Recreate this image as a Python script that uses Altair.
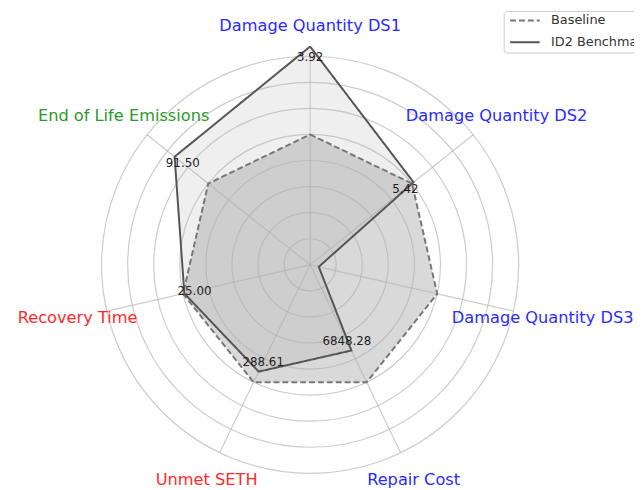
import math
import altair as alt
import pandas as pd

categories = ["Damage Quantity DS1", "Damage Quantity DS2", "Damage Quantity DS3",
              "Repair Cost", "Unmet SETH", "Recovery Time", "End of Life Emissions"]
label_colors = ["#2a2aff", "#2a2aff", "#2a2aff", "#2a2aff", "#ff2a2a", "#ff2a2a", "#2a9a2a"]
baseline = [1.0, 1.0, 1.0, 1.0, 1.0, 1.0, 1.0]
id2 = [1.675, 1.015, 0.068, 0.73, 0.91, 0.99, 1.33]
value_labels = ["3.92", "5.42", "", "6848.28", "288.61", "25.00", "91.50"]
ring_levels = [0.2, 0.4, 0.6, 0.8, 1.0, 1.2, 1.4, 1.6]
series_names = ["Baseline", "ID2 Benchmark"]

W, H = 634, 482
CX, CY, UNIT = 306, 257, 132.0
OUTER = 1.6
LABEL_R = 1.83
VALUE_OFFSET = 0.08

n = len(categories)
angles = [2 * math.pi * i / n for i in range(n)]

def polar(r, a):
    return r * math.sin(a), r * math.cos(a)

rows = []
for name, vals in zip(series_names, [baseline, id2]):
    for k in range(n + 1):
        i = k % n
        x, y = polar(vals[i], angles[i])
        rows.append({"series": name, "order": k, "x": x, "y": y})
poly = pd.DataFrame(rows)

spokes = pd.DataFrame([{"x": 0.0, "y": 0.0,
                        "x2": polar(OUTER, a)[0], "y2": polar(OUTER, a)[1]} for a in angles])
rings = pd.DataFrame({"r": ring_levels})

cat_df = pd.DataFrame([{"label": c, "color": col,
                        "x": polar(LABEL_R, a)[0], "y": polar(LABEL_R, a)[1]}
                       for c, col, a in zip(categories, label_colors, angles)])
val_df = pd.DataFrame([{"label": t,
                        "x": polar(v - VALUE_OFFSET, a)[0], "y": polar(v - VALUE_OFFSET, a)[1]}
                       for t, v, a in zip(value_labels, id2, angles) if t])

xs = alt.Scale(domain=[-CX / UNIT, (W - CX) / UNIT], range=[0, W], nice=False, zero=False)
ys = alt.Scale(domain=[-(H - CY) / UNIT, CY / UNIT], range=[H, 0], nice=False, zero=False)
X = lambda f="x": alt.X(f"{f}:Q", scale=xs, axis=None)
Y = lambda f="y": alt.Y(f"{f}:Q", scale=ys, axis=None)

base_poly = alt.Chart(poly)
fill_base = base_poly.transform_filter(alt.datum.series == "Baseline").mark_line(
    filled=True, fill="#808080", fillOpacity=0.3, strokeWidth=0).encode(
    x=X(), y=Y(), order="order:Q")
fill_id2 = base_poly.transform_filter(alt.datum.series == "ID2 Benchmark").mark_line(
    filled=True, fill="#808080", fillOpacity=0.13, strokeWidth=0).encode(
    x=X(), y=Y(), order="order:Q")

ring_layer = alt.Chart(rings).mark_arc(filled=False, theta=0, theta2=2 * math.pi,
                                       stroke="#b0b0b0", strokeOpacity=0.65, strokeWidth=1.2).encode(
    x=alt.X(datum=0, scale=xs, axis=None),
    y=alt.Y(datum=0, scale=ys, axis=None),
    radius=alt.Radius("r:Q", stack=None,
                      scale=alt.Scale(type="linear", domain=[0, 1], range=[0, UNIT], zero=True)),
)

spoke_layer = alt.Chart(spokes).mark_rule(stroke="#b0b0b0", strokeOpacity=0.65, strokeWidth=1.2).encode(
    x=X(), y=Y(), x2="x2:Q", y2="y2:Q")

lines = alt.Chart(poly).mark_line(strokeWidth=2).encode(
    x=X(), y=Y(), order="order:Q",
    color=alt.Color("series:N", scale=alt.Scale(domain=series_names, range=["#777777", "#555555"]),
                    legend=alt.Legend(title=None)),
    strokeDash=alt.StrokeDash("series:N", scale=alt.Scale(domain=series_names, range=[[6, 3], [1, 0]]),
                              legend=alt.Legend(title=None)),
)

val_text = alt.Chart(val_df).mark_text(font="DejaVu Sans", fontSize=12, color="#222222",
                                       align="center", baseline="middle").encode(
    x=X(), y=Y(), text="label:N")

cat_text = alt.Chart(cat_df).mark_text(font="DejaVu Sans", fontSize=16.4,
                                       align="center", baseline="middle").encode(
    x=X(), y=Y(), text="label:N", fill=alt.Fill("color:N", scale=None))

chart = alt.layer(fill_base, fill_id2, ring_layer, spoke_layer, lines, val_text, cat_text).properties(
    width=W, height=H, autosize=alt.AutoSizeParams(type="none"), padding=0
).configure_view(stroke=None).configure_legend(
    orient="none", legendX=502, legendY=0, symbolType="M-3,0H3", symbolSize=100,
    symbolStrokeWidth=2, symbolOffset=12, labelFont="DejaVu Sans", labelFontSize=13,
    labelColor="#333333", fillColor="white", strokeColor="#cccccc", padding=3,
    cornerRadius=3, labelOffset=20, rowPadding=8
)

chart.save("out.html", embed_options={"renderer": "svg", "actions": False})
